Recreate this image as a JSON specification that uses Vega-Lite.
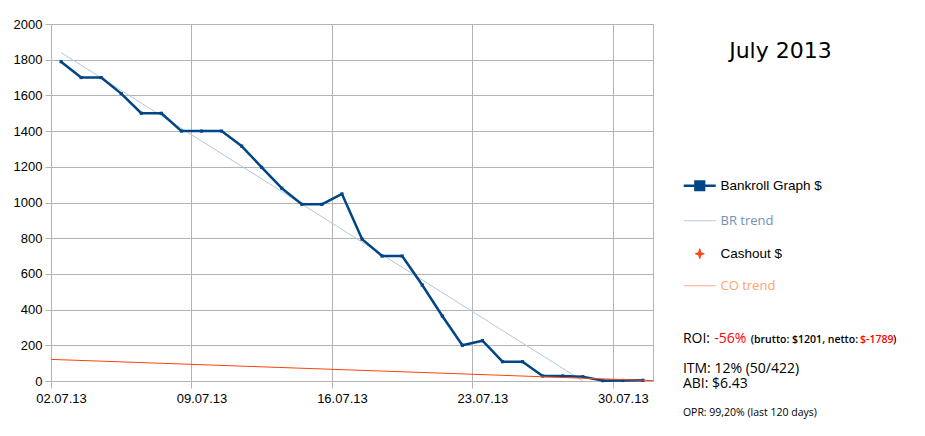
{
  "$schema": "https://vega.github.io/schema/vega-lite/v6.json",
  "width": 602,
  "height": 357,
  "autosize": "none",
  "padding": {"left": 51, "top": 24, "right": 272, "bottom": 55},
  "background": "white",
  "config": {
    "view": {"stroke": "#b3b3b3", "strokeWidth": 1},
    "axis": {
      "gridColor": "#b3b3b3",
      "domainColor": "#b3b3b3",
      "tickColor": "#b3b3b3",
      "labelFont": "Liberation Sans",
      "labelFontSize": 13,
      "labelColor": "#000000"
    }
  },
  "datasets": {
    "bankroll": [
      {"date": "02.07.13", "day": 2, "value": 1789, "series": "Bankroll Graph $"},
      {"date": "03.07.13", "day": 3, "value": 1700, "series": "Bankroll Graph $"},
      {"date": "04.07.13", "day": 4, "value": 1700, "series": "Bankroll Graph $"},
      {"date": "05.07.13", "day": 5, "value": 1610, "series": "Bankroll Graph $"},
      {"date": "06.07.13", "day": 6, "value": 1500, "series": "Bankroll Graph $"},
      {"date": "07.07.13", "day": 7, "value": 1500, "series": "Bankroll Graph $"},
      {"date": "08.07.13", "day": 8, "value": 1400, "series": "Bankroll Graph $"},
      {"date": "09.07.13", "day": 9, "value": 1400, "series": "Bankroll Graph $"},
      {"date": "10.07.13", "day": 10, "value": 1400, "series": "Bankroll Graph $"},
      {"date": "11.07.13", "day": 11, "value": 1316, "series": "Bankroll Graph $"},
      {"date": "12.07.13", "day": 12, "value": 1197, "series": "Bankroll Graph $"},
      {"date": "13.07.13", "day": 13, "value": 1080, "series": "Bankroll Graph $"},
      {"date": "14.07.13", "day": 14, "value": 990, "series": "Bankroll Graph $"},
      {"date": "15.07.13", "day": 15, "value": 990, "series": "Bankroll Graph $"},
      {"date": "16.07.13", "day": 16, "value": 1048, "series": "Bankroll Graph $"},
      {"date": "17.07.13", "day": 17, "value": 795, "series": "Bankroll Graph $"},
      {"date": "18.07.13", "day": 18, "value": 700, "series": "Bankroll Graph $"},
      {"date": "19.07.13", "day": 19, "value": 700, "series": "Bankroll Graph $"},
      {"date": "20.07.13", "day": 20, "value": 538, "series": "Bankroll Graph $"},
      {"date": "21.07.13", "day": 21, "value": 364, "series": "Bankroll Graph $"},
      {"date": "22.07.13", "day": 22, "value": 200, "series": "Bankroll Graph $"},
      {"date": "23.07.13", "day": 23, "value": 226, "series": "Bankroll Graph $"},
      {"date": "24.07.13", "day": 24, "value": 108, "series": "Bankroll Graph $"},
      {"date": "25.07.13", "day": 25, "value": 108, "series": "Bankroll Graph $"},
      {"date": "26.07.13", "day": 26, "value": 28, "series": "Bankroll Graph $"},
      {"date": "27.07.13", "day": 27, "value": 28, "series": "Bankroll Graph $"},
      {"date": "28.07.13", "day": 28, "value": 24, "series": "Bankroll Graph $"},
      {"date": "29.07.13", "day": 29, "value": 2, "series": "Bankroll Graph $"},
      {"date": "30.07.13", "day": 30, "value": 3, "series": "Bankroll Graph $"},
      {"date": "31.07.13", "day": 31, "value": 4, "series": "Bankroll Graph $"}
    ],
    "trends": [
      {"series": "BR trend", "day": 2, "value": 1840},
      {"series": "BR trend", "day": 28, "value": 0},
      {"series": "CO trend", "day": 1.5, "value": 121},
      {"series": "CO trend", "day": 31.5, "value": 2}
    ]
  },
  "layer": [
    {
      "data": {"name": "trends"},
      "transform": [{"filter": "datum.series === 'BR trend'"}],
      "mark": {"type": "line", "strokeWidth": 1},
      "encoding": {
        "x": {
          "field": "day", "type": "quantitative", "title": null,
          "scale": {"domain": [1.5, 31.5], "nice": false, "zero": false},
          "axis": {
            "values": [1.5, 8.5, 15.5, 22.5, 29.5],
            "tickCount": 20,
            "labelExpr": "format(datum.value + 0.5, '02d') + '.07.13'",
            "labelOffset": 10,
            "grid": true,
            "tickSize": 7,
            "labelPadding": 4,
            "labelAngle": 0,
            "labelOverlap": false,
            "labelFlush": false
          }
        },
        "y": {
          "field": "value", "type": "quantitative", "title": null,
          "scale": {"domain": [0, 2000], "nice": false, "zero": true},
          "axis": {
            "values": [0, 200, 400, 600, 800, 1000, 1200, 1400, 1600, 1800, 2000],
            "tickCount": 20,
            "format": "d",
            "grid": true,
            "tickSize": 6,
            "labelPadding": 3,
            "labelOverlap": false,
            "labelFlush": false
          }
        },
        "color": {
          "field": "series", "type": "nominal",
          "scale": {
            "domain": ["Bankroll Graph $", "BR trend", "Cashout $", "CO trend"],
            "range": ["#004586", "#b4c7dc", "#ff420e", "#ffac88"]
          },
          "legend": {
            "orient": "none",
            "legendX": 642,
            "legendY": 155,
            "title": null,
            "padding": 0,
            "symbolSize": 1024,
            "symbolType": "stroke",
            "labelFont": "Liberation Sans",
            "labelFontSize": 13.5,
            "labelColor": "#000000",
            "labelOffset": 14,
            "rowPadding": 18,
            "encode": {
              "symbols": {
                "update": {
                  "shape": {"signal": "datum.value === 'Bankroll Graph $' ? 'M-1,0H1M-0.27,-0.27H0.27V0.27H-0.27Z' : (datum.value === 'Cashout $' ? 'M0,-0.31L0.07,-0.07L0.28,0L0.07,0.07L0,0.31L-0.07,0.07L-0.28,0L-0.07,-0.07Z' : 'M-1,0H1')"},
                  "stroke": {"signal": "datum.value === 'Bankroll Graph $' ? '#004586' : (datum.value === 'BR trend' ? '#a9c0d9' : (datum.value === 'Cashout $' ? 'transparent' : '#ffac88'))"},
                  "fill": {"signal": "datum.value === 'Bankroll Graph $' ? '#004586' : (datum.value === 'Cashout $' ? '#ff420e' : 'transparent')"},
                  "strokeWidth": {"signal": "datum.value === 'Bankroll Graph $' ? 2.5 : 1"},
                  "opacity": {"value": 1}
                }
              },
              "labels": {
                "update": {
                  "fill": {"signal": "datum.value === 'BR trend' ? '#7290b6' : (datum.value === 'CO trend' ? '#ffa270' : '#000000')"},
                  "font": {"signal": "(datum.value === 'BR trend' || datum.value === 'CO trend') ? 'Open Sans' : 'Liberation Sans'"},
                  "fontSize": {"signal": "(datum.value === 'BR trend' || datum.value === 'CO trend') ? 13 : 13.5"}
                }
              }
            }
          }
        }
      }
    },
    {
      "data": {"name": "bankroll"},
      "mark": {"type": "line", "strokeWidth": 2.5, "strokeJoin": "round"},
      "encoding": {
        "x": {"field": "day", "type": "quantitative", "title": null},
        "y": {"field": "value", "type": "quantitative", "title": null},
        "color": {"field": "series", "type": "nominal"}
      }
    },
    {
      "data": {"name": "bankroll"},
      "mark": {"type": "point", "shape": "square", "size": 10, "filled": true, "opacity": 1},
      "encoding": {
        "x": {"field": "day", "type": "quantitative", "title": null},
        "y": {"field": "value", "type": "quantitative", "title": null},
        "color": {"value": "#004586"}
      }
    },
    {
      "data": {"name": "trends"},
      "transform": [{"filter": "datum.series === 'CO trend'"}],
      "mark": {"type": "line", "strokeWidth": 1, "color": "#ff420e"},
      "encoding": {
        "x": {"field": "day", "type": "quantitative", "title": null},
        "y": {"field": "value", "type": "quantitative", "title": null},
        "detail": {"field": "series", "type": "nominal"}
      }
    },
    {
      "data": {"values": [{"label": "July 2013"}]},
      "mark": {"type": "text", "font": "DejaVu Sans", "fontSize": 22, "align": "center", "baseline": "alphabetic", "color": "#000000"},
      "encoding": {
        "x": {"datum": 37.85, "type": "quantitative"},
        "y": {"datum": 1809, "type": "quantitative"},
        "text": {"field": "label"}
      }
    },
    {
      "data": {"values": [{"label": "ROI:"}]},
      "mark": {"type": "text", "font": "Open Sans", "fontSize": 14, "align": "left", "baseline": "alphabetic", "color": "#000000"},
      "encoding": {
        "x": {"datum": 32.99, "type": "quantitative"},
        "y": {"datum": 213, "type": "quantitative"},
        "text": {"field": "label"}
      }
    },
    {
      "data": {"values": [{"label": "-56%"}]},
      "mark": {"type": "text", "font": "Open Sans", "fontSize": 14, "align": "left", "baseline": "alphabetic", "color": "#ff0000"},
      "encoding": {
        "x": {"datum": 34.55, "type": "quantitative"},
        "y": {"datum": 213, "type": "quantitative"},
        "text": {"field": "label"}
      }
    },
    {
      "data": {"values": [{"label": "(brutto: $1201, netto:"}]},
      "mark": {"type": "text", "font": "Open Sans", "fontSize": 10.5, "fontWeight": 600, "align": "left", "baseline": "alphabetic", "color": "#000000"},
      "encoding": {
        "x": {"datum": 36.37, "type": "quantitative"},
        "y": {"datum": 213, "type": "quantitative"},
        "text": {"field": "label"}
      }
    },
    {
      "data": {"values": [{"label": "$-1789"}]},
      "mark": {"type": "text", "font": "Open Sans", "fontSize": 10.5, "fontWeight": 600, "align": "left", "baseline": "alphabetic", "color": "#ff0000"},
      "encoding": {
        "x": {"datum": 41.82, "type": "quantitative"},
        "y": {"datum": 213, "type": "quantitative"},
        "text": {"field": "label"}
      }
    },
    {
      "data": {"values": [{"label": ")"}]},
      "mark": {"type": "text", "font": "Open Sans", "fontSize": 10.5, "fontWeight": 600, "align": "left", "baseline": "alphabetic", "color": "#000000"},
      "encoding": {
        "x": {"datum": 43.46, "type": "quantitative"},
        "y": {"datum": 213, "type": "quantitative"},
        "text": {"field": "label"}
      }
    },
    {
      "data": {"values": [{"label": "ITM: 12% (50/422)"}]},
      "mark": {"type": "text", "font": "Open Sans", "fontSize": 14, "align": "left", "baseline": "alphabetic", "color": "#000000"},
      "encoding": {
        "x": {"datum": 32.99, "type": "quantitative"},
        "y": {"datum": 47, "type": "quantitative"},
        "text": {"field": "label"}
      }
    },
    {
      "data": {"values": [{"label": "ABI: $6.43"}]},
      "mark": {"type": "text", "font": "Open Sans", "fontSize": 14, "align": "left", "baseline": "alphabetic", "color": "#000000"},
      "encoding": {
        "x": {"datum": 32.99, "type": "quantitative"},
        "y": {"datum": -42, "type": "quantitative"},
        "text": {"field": "label"}
      }
    },
    {
      "data": {"values": [{"label": "OPR: 99,20% (last 120 days)"}]},
      "mark": {"type": "text", "font": "Open Sans", "fontSize": 10.5, "align": "left", "baseline": "alphabetic", "color": "#000000"},
      "encoding": {
        "x": {"datum": 32.99, "type": "quantitative"},
        "y": {"datum": -196, "type": "quantitative"},
        "text": {"field": "label"}
      }
    }
  ]
}
